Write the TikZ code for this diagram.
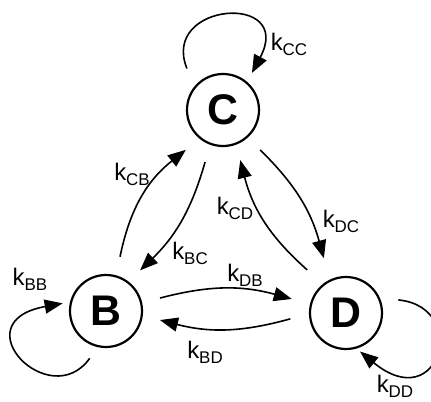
\documentclass[tikz,border=0pt]{standalone}
\usepackage{fontspec}
\setmainfont{Liberation Sans}
\usetikzlibrary{arrows.meta,calc}
\newcommand{\rateK}[1]{{\fontsize{24}{24}\selectfont k}\raisebox{-5bp}{\fontsize{17}{17}\selectfont #1}}
\begin{document}
\begin{tikzpicture}[x=1bp,y=1bp,
  state/.style={circle,draw,line width=2.2bp,minimum size=72bp,inner sep=0pt,font=\fontsize{43}{43}\selectfont\bfseries},
  rate/.style={inner sep=0pt},
  flow/.style={line width=1.6bp,-{Triangle[length=18bp,width=14bp]}}]
\useasboundingbox (0,0) rectangle (431,402);
\node[state] (C) at (223,292) {C};
\node[state] (B) at (106,91) {B};
\node[state] (D) at (346,89) {D};

\draw[flow] ($(B)+(75.5:56)$) to[bend left=20] ($(C)+(227:54.5)$);
\draw[flow] ($(C)+(251:55)$) to[bend left=15] ($(B)+(50:53)$);
\draw[flow] ($(D)+(132:58)$) to[bend left=17] ($(C)+(289:53)$);
\draw[flow] ($(C)+(313:54.5)$) to[bend left=15] ($(D)+(112:59)$);
\draw[flow] ($(B)+(13.5:55.5)$) to[bend left=15] ($(D)+(165.5:56)$);
\draw[flow] ($(D)+(186:56)$) to[bend left=15] ($(B)+(350.5:54.7)$);

\draw[flow] ($(C)+(131:55)$) .. controls (160,400) and (295,410) .. ($(C)+(52:47)$);
\draw[flow] ($(B)+(251:50)$) .. controls (50,-12) and (-40,80) .. ($(B)+(170:44)$);
\draw[flow] ($(D)+(14:54)$) .. controls (470,95) and (440,-15) .. ($(D)+(290:41)$);

\node[rate] (kCC) at (289,358) {\rateK{CC}};
\node[rate] (kBB) at (30,123) {\rateK{BB}};
\node[rate] (kDD) at (395,16) {\rateK{DD}};
\node[rate] (kBD) at (205,50) {\rateK{BD}};
\node[rate] (kCB) at (132,228) {\rateK{CB}};
\node[rate] (kBC) at (190,149) {\rateK{BC}};
\node[rate] (kCD) at (235,194) {\rateK{CD}};
\node[rate] (kDC) at (341,181) {\rateK{DC}};
\node[rate] (kDB) at (245,127) {\rateK{DB}};
\end{tikzpicture}
\end{document}
